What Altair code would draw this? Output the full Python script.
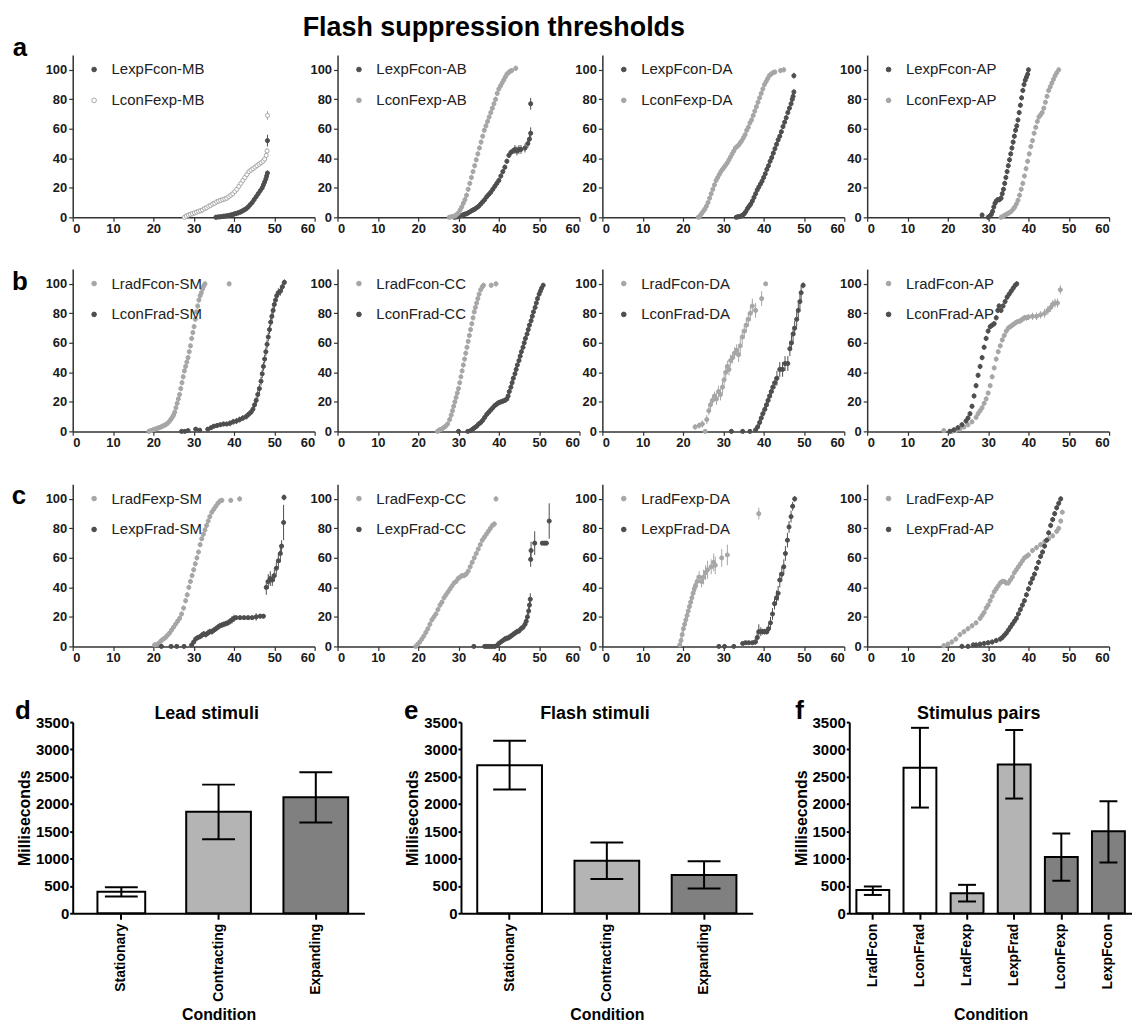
import altair as alt
import pandas as pd

FONT = "Liberation Sans"
DARK = "#4e4e4e"
LIGHT = "#a6a6a6"
DEFAULT_ERR = 1.8
PW, PH = 243, 163
MAIN_TITLE = "Flash suppression thresholds"

# ---------------- row a ----------------
A1_LEXPFCON_MB = [(35.5,0),(36,0.2),(36.5,0.3),(37,0.5),(37.5,0.7),(38,0.9),(38.5,1.1),(39,1.4),(39.5,1.8),(40,2.2),(40.5,2.6),(41,3),(41.5,3.5),(42,4.2),(42.5,5),(43,5.8),(43.5,7),(44,8.5),(44.5,10),(45,12),(45.5,14),(46,16),(46.5,18),(47,20),(47.3,22),(47.6,24),(47.9,26),(48.1,28),(48.3,30),(48.3,52,4)]
A1_LCONFEXP_MB = [(27.7,0),(28.2,0.8),(28.7,1.5),(29.2,2),(29.7,2.5),(30.2,3),(30.7,3.5),(31.2,4),(31.7,4.5),(32.2,5),(32.7,6),(33.2,6.5),(33.7,7.5),(34.2,8),(34.7,9),(35.2,9.5),(35.7,10.5),(36.2,11),(36.7,11.5),(37.2,12),(37.7,12.5),(38.2,13),(38.7,14),(39.2,15),(39.7,16),(40.2,17.5),(40.7,19),(41.2,21),(41.7,23),(42.2,25),(42.7,27),(43.2,29),(43.7,31),(44.2,32),(44.7,33),(45.2,34),(45.7,35),(46.2,36),(46.7,37),(47.2,38),(47.6,39.5),(48,42),(48.2,45),(48.3,69,3)]

A2_LEXPFCON_AB = [(29,0),(29.5,0.3),(30,0.5),(30.5,1),(31,1.5),(31.5,2),(32,2.5),(32.5,3.2),(33,4),(33.5,4.8),(34,5.5),(34.5,6.5),(35,7.5),(35.5,9),(36,10.5),(36.5,12),(37,14),(37.5,15.5),(38,17),(38.5,19),(39,21),(39.5,23),(40,25),(40.5,28),(41,31),(41.5,34),(42,38),(42.5,42),(43,44),(43.5,45,2),(44,46,3),(44.5,45,3),(45,46,3),(45.5,46,3),(46.5,47,3),(47.2,50,3),(47.6,53,3),(47.9,57,4),(47.9,77,4)]
A2_LCONFEXP_AB = [(27.7,0),(28.2,0.3),(28.7,0.6),(29.2,1),(29.6,2),(30,3),(30.4,5),(30.8,7),(31.2,9.5),(31.6,12),(32,15),(32.4,19),(32.8,23),(33.2,27),(33.6,31),(34,35),(34.4,39),(34.8,43),(35.2,47),(35.6,51),(36,55),(36.4,59),(36.8,62),(37.2,65),(37.6,68),(38,71),(38.4,74),(38.8,77),(39.2,80),(39.6,84),(40,87),(40.4,89),(40.8,91),(41.2,93),(41.6,95),(42,97),(42.4,98),(42.8,99),(43.2,99.5),(44.2,101)]

A3_LEXPFCON_DA = [(33.2,0),(33.6,0.3),(34,0.5),(34.4,0.8),(34.8,1.5),(35.2,2.5),(35.6,4),(36,6),(36.4,7.5),(36.8,9),(37.2,11),(37.6,13.5),(38,16),(38.4,18.5),(38.8,20.5),(39.2,22.5),(39.6,24.5),(40,27),(40.4,29.5),(40.8,32.5),(41.2,35),(41.6,38),(42,40.5),(42.4,43.5),(42.8,46.5),(43.2,49.5),(43.6,52.5),(44,55),(44.4,58),(44.8,61.5),(45.2,64.5),(45.6,67.5),(46,71),(46.4,74),(46.8,77),(47.1,80),(47.3,82),(47.5,85),(47.5,96,2)]
A3_LCONFEXP_DA = [(23.8,0),(24.2,1),(24.6,2.5),(25,4),(25.4,5.5),(25.8,7.5),(26.2,10),(26.6,13),(27,16),(27.4,19),(27.8,22),(28.2,25),(28.6,27),(29,29),(29.4,31),(29.8,32.5),(30.2,34),(30.6,35.5),(31,37),(31.4,39),(31.8,41),(32.2,43),(32.6,45),(33,47),(33.4,48),(33.8,49),(34.2,50.5),(34.6,52),(35,54),(35.4,56),(35.8,59),(36.2,61),(36.6,64),(37,66),(37.4,69),(37.8,72),(38.2,75),(38.6,78),(39,81),(39.4,84),(39.8,87),(40.2,90),(40.6,92),(41,94),(41.4,96),(41.8,97),(42.3,98),(42.8,98.5),(44.2,99.5),(45,100)]

A4_LEXPFCON_AP = [(28.5,1.5),(30,0),(30.4,0.8),(30.8,2),(31.1,4),(31.4,7),(31.7,9.5),(32,11),(32.4,12),(32.8,12),(33.2,13),(33.5,16),(33.8,19),(34.1,23),(34.4,27),(34.7,31),(35,35),(35.3,39),(35.6,43),(35.9,47),(36.2,51),(36.5,55),(36.8,59),(37.1,62),(37.4,66),(37.7,71),(38,76),(38.3,81),(38.6,86),(38.9,90),(39.2,93),(39.5,95),(39.8,97),(40,100)]
A4_LCONFEXP_AP = [(33.2,0),(33.7,0.7),(34.2,1.5),(34.7,2.3),(35.2,3),(35.7,4),(36.2,5.5),(36.6,7),(37,9),(37.4,11.5),(37.8,15),(38.2,19),(38.6,23),(39,28),(39.4,33),(39.8,38),(40.2,43),(40.6,48),(41,52),(41.4,57),(41.8,61),(42.2,65),(42.6,68),(43,69.5),(43.4,71),(43.8,74),(44.2,78),(44.6,82),(45,86),(45.4,88.5),(45.8,91),(46.2,93.5),(46.6,96),(47,98),(47.5,100)]

# ---------------- row b ----------------
B1_LRADFCON_SM = [(18.9,0),(19.4,0.5),(19.9,1),(20.4,1.5),(20.9,2),(21.4,2.5),(21.9,3),(22.4,3.7),(22.9,4.3),(23.4,5.2),(23.9,6.5),(24.3,8),(24.7,9.5),(25,11),(25.3,13),(25.6,16),(25.9,19),(26.2,22),(26.5,25),(26.8,29),(27.1,33),(27.4,37),(27.7,41),(28,44),(28.3,47),(28.6,50),(28.9,54),(29.2,58),(29.5,63),(29.8,67),(30.1,71),(30.4,76),(30.7,81),(31,85),(31.3,89),(31.6,92),(31.9,94),(32.2,96.5),(32.5,98.5),(32.8,100),(38.8,100)]
B1_LCONFRAD_SM = [(27,0,0),(27.8,0,0),(28.6,0.5,0.5),(30.5,1.5,1),(31.5,0.8,0.8),(33.5,1.5,1),(34.3,2.5,1.5),(35,3.5,1.5),(35.8,4,1.5),(36.6,4.5,1.5),(37.4,5,1.5),(38.2,5,1.5),(39,5.5,2),(39.8,6.5,2),(40.6,7,2),(41.4,8,2),(42.2,9,2),(43,10,2),(43.6,11.5,2),(44.2,13,2),(44.7,15,2.5),(45.1,18,2.5),(45.5,21,2.5),(45.9,25,3),(46.3,29,3),(46.7,34,3),(47,39,3),(47.3,44,3),(47.6,49,3),(47.9,54,3),(48.2,59,3),(48.5,64,3),(48.8,69,3),(49.1,74,3),(49.4,78,3),(49.7,82,3),(50,86,3),(50.3,89,3),(50.6,92,3),(51,94,3),(51.5,95,3),(52,98,3),(52.5,101,2)]

B2_LRADFCON_CC = [(24.8,0),(25.3,1),(25.8,1.5),(26.3,2.5),(26.8,3.5),(27.3,5),(27.8,8),(28.2,11),(28.5,14),(28.8,17),(29.1,20),(29.4,23),(29.7,26),(30,29),(30.3,33),(30.6,37),(30.9,41),(31.2,45),(31.5,49),(31.8,53),(32.1,57),(32.4,61),(32.7,65),(33,69),(33.3,73),(33.6,77),(33.9,81),(34.2,84),(34.5,87),(34.8,90),(35.1,93),(35.5,96),(35.9,98),(36.2,99),(38.1,99),(39.3,100)]
B2_LCONFRAD_CC = [(30,0,0),(32.3,0,0),(33,0.5),(33.5,1.5),(34,2.5),(34.5,3.5),(35,5),(35.5,6),(36,7.5),(36.5,9.5),(37,11.5),(37.5,13),(38,14.5),(38.5,16),(39,17.5),(39.5,18.5),(40,19.5),(40.5,20),(41,20.5),(41.5,21),(42,22),(42.3,24),(42.6,27),(43,30),(43.3,33),(43.6,36),(44,39),(44.3,42),(44.6,45),(45,48),(45.3,51),(45.6,54),(46,57),(46.3,60),(46.6,63),(47,66),(47.3,69),(47.6,72),(48,75),(48.3,78),(48.6,81),(49,84),(49.3,87),(49.6,90),(50,93),(50.3,95),(50.6,97),(51,99)]

B3_LRADFCON_DA = [(23,3,2),(24,4,2),(24.8,5,2.5),(25.5,0,0),(25.9,8,3),(26.4,14,3),(26.8,18,3),(27.3,21,3),(27.8,24,3),(28.3,22,4),(28.8,27,4),(29.3,25,4),(29.8,30,4),(30.2,35,4),(30.6,40,4),(31,44,4),(31.4,42,4),(31.8,48,4),(32.3,50,4),(32.8,53,4),(33.3,55,4),(33.8,52,5),(34.2,58,5),(34.7,64,5),(35.2,68,5),(35.7,72,5),(36.2,76,5),(36.7,80,5),(37.2,85,5),(38,82,5),(39.5,90,5),(40.5,100,1)]
B3_LCONFRAD_DA = [(32,0,0),(34.8,0,0),(36.6,0,0),(38,1,1),(38.5,3,2),(39,6,3),(39.4,9,3),(39.8,12,3),(40.3,15,3),(40.7,18,4),(41.1,21,4),(41.5,24,4),(41.9,27,4),(42.3,30,4),(42.8,33,4),(43.3,36,5),(44,42,5),(44.7,42,5),(45.3,46,5),(46,46,5),(46.5,56,5),(46.9,60,5),(47.3,66,5),(47.7,70,5),(48.2,76,5),(48.6,82,5),(49,88,5),(49.3,94,5),(49.8,99,2)]

B4_LRADFCON_AP = [(19,0.5),(21,0),(22,0.5),(23,1.5),(24,3),(25,4.5),(26,6.5),(27,9.5),(27.5,12),(28,14),(28.5,16),(29,19),(29.5,22),(30,26),(30.5,31),(31,37),(31.5,43),(32,49),(32.5,54),(33,58),(33.5,62),(34,65),(34.5,68),(35,70),(35.5,71),(36,72),(36.5,73),(37,74),(37.5,74.5),(38,75,2),(38.5,76,2),(39,77,2),(39.5,77,2),(40,77.5,2),(41,78,2.5),(42,78,2.5),(43,79,2.5),(44,80,3),(44.8,82,3),(45.5,84,3),(46,86,3),(46.6,87,3),(47.2,87,3),(47.9,96,3)]
B4_LCONFRAD_AP = [(20.5,0),(21.5,1),(22.5,2.5),(23.5,4.5),(24.5,7),(25,9),(25.5,12),(26,17),(26.5,24),(27,31),(27.5,38),(28,44),(28.5,50),(29,57),(29.5,63),(30,68),(30.5,71),(31,72),(31.5,73),(32,77),(32.4,82),(32.7,85),(33.2,82),(33.7,85),(34.2,88),(34.7,91),(35.2,93),(35.7,95),(36.2,97),(36.7,99),(37.1,100)]

# ---------------- row c ----------------
C1_LRADFEXP_SM = [(20.3,1),(21,1.5),(21.5,2.5),(22,4),(22.5,5),(23,6),(23.5,7.5),(24,9),(24.5,11),(25,13),(25.5,15),(26,17),(26.5,19),(27,22),(27.5,26),(28,31),(28.4,35),(28.8,40),(29.2,44),(29.6,48),(30,52),(30.4,56),(30.8,60),(31.2,64),(31.6,69),(32,73),(32.4,76),(32.8,79),(33.2,82),(33.6,85),(34,88),(34.5,91),(35,93),(35.5,95),(36,97),(36.5,98.5),(37,99),(39.2,99),(41.4,100)]
C1_LEXPFRAD_SM = [(22,0,0),(24.4,0,0),(25.8,0,0),(27.6,0,0),(29.5,1,1),(30,3,1.5),(30.5,5,1.5),(31,6,1.5),(31.5,6.5,1.5),(32,7.5,2),(32.5,8.5,2),(33,8,2),(33.5,9,2),(34,10,2),(34.5,10,2),(35,11,2),(35.5,12,2),(36,13,2),(36.5,14,2),(37,14.5,2),(37.5,15,2),(38,15.5,2),(38.5,16,2),(39,17,2),(39.5,18,2.5),(40,19,2.5),(40.5,19.5,1),(41.5,19.5,1),(42.5,19.5,1),(43.5,19.5,1),(44.5,19.5,1),(45.5,20,2.5),(46.5,20.5,1.5),(47.3,20.5,1.5),(48,40,5),(48.5,44,5),(49,46,5),(49.5,45,4),(50,48,4),(50.5,53,4),(51,58,5),(51.5,63,6),(51.8,68,4),(52.3,84,12),(52.4,101,2)]

C2_LRADFEXP_CC = [(19.4,0),(19.9,1.5),(20.4,3),(20.9,5),(21.4,7),(21.9,9.5),(22.4,12),(22.9,15),(23.4,18),(23.9,20),(24.4,22),(24.9,25),(25.4,28),(25.9,30),(26.4,33),(26.9,35),(27.4,37),(27.9,39),(28.4,41),(28.9,43),(29.4,44),(29.9,46),(30.4,47),(30.9,48),(31.4,48),(31.9,49),(32.4,51),(32.9,54),(33.4,57),(33.9,60),(34.4,63),(34.9,66),(35.4,69),(35.9,72),(36.4,74),(36.9,76),(37.4,78),(37.9,80),(38.4,82),(38.9,83),(39.3,100)]
C2_LEXPFRAD_CC = [(33.8,0,0),(36.5,0,0),(37,0,0),(37.5,0,0),(38,0,0),(38.5,0,0),(39,0,0),(39.5,0.5,0.5),(40,2,1.5),(40.5,3,1.5),(41,4,1.5),(41.5,5,2),(42,5.5,2),(42.5,6,2),(43,7,2),(43.5,8,2),(44,9,2),(44.5,10,2),(45,10.5,2),(45.5,12,2),(46,13,2),(46.5,15,2),(46.8,17,3),(47.1,20,3),(47.4,24,3),(47.6,28,3),(47.8,32,4),(47.9,59,5),(48,65,6),(48.9,70,8),(50.8,70,1),(51.3,70,1),(51.8,70,1),(52.5,85,12)]

C3_LRADFEXP_DA = [(19.2,1,2),(19.5,4,3),(19.8,8,3),(20.1,12,3),(20.4,15,3),(20.7,18,3),(21,21,3),(21.3,24,3),(21.6,27,3),(21.9,30,3),(22.2,33,4),(22.5,36,4),(22.8,39,4),(23.1,41,4),(23.5,44,4),(24,47,4),(24.6,44,4),(25.1,47,5),(25.6,50,5),(26.1,52,6),(27,54,5),(27.6,57,6),(28,55,6),(29.6,60,6),(31,62,7),(38.8,90,4)]
C3_LEXPFRAD_DA = [(28.9,0,0),(30.3,0,0),(32.6,0,0),(34.8,2,1),(35.5,2.5,1),(36.3,2.5,1),(37.2,2.5,1),(37.9,3,2),(38.4,6,4),(38.8,10,5),(39.3,10,3),(39.8,10,2),(40.3,10,2),(40.8,10,2),(41.2,12,3),(41.7,16,4),(42.2,22,4),(42.7,29,4),(43.2,33,5),(43.6,36,5),(44,45,5),(44.5,49,5),(45,54,5),(45.4,63,5),(45.9,72,5),(46.3,81,4),(46.8,88,4),(47.2,95,3),(47.7,100,2)]

C4_LRADFEXP_AP = [(19,0.5),(20,1.5),(21,3),(22,5),(23,8),(24,10),(25,12),(26,14),(27,16),(28,19),(28.5,21),(29,23),(29.5,26),(30,28),(30.5,31),(31,34),(31.5,37),(32,39),(32.5,41),(33,43),(33.5,44),(34,44),(34.5,43),(35,43),(35.5,45),(36,47),(36.5,50),(37,52),(37.5,54),(38,56),(38.5,58),(39,60),(39.5,61),(40,62),(41,65),(42,67),(43,69),(44,71),(45,73),(46,75),(47,78),(47.5,80),(48,85),(48.4,91)]
C4_LEXPFRAD_AP = [(23.5,0),(25,0),(26.3,1),(27,1),(28,1.5),(29,2),(30,2.5),(31,3),(32,4),(33,5),(33.5,6),(34,7.5),(34.5,9),(35,11),(35.5,13),(36,15),(36.5,17),(37,19),(37.5,22),(38,25),(38.5,28),(39,31),(39.5,35),(40,39),(40.5,43),(41,46),(41.5,49),(42,53),(42.5,57),(43,61),(43.5,64),(44,68),(44.5,72),(45,77),(45.5,82),(46,86),(46.5,90),(47,94),(47.5,97),(48,100)]

# ---------------- bar charts ----------------
MOTION_CATS = ["Stationary", "Contracting", "Expanding"]
LEAD_MEAN = [395, 1858, 2125]
LEAD_LOW = [305, 1355, 1660]
LEAD_HIGH = [475, 2355, 2580]
FLASH_MEAN = [2710, 960, 700]
FLASH_LOW = [2265, 625, 455]
FLASH_HIGH = [3160, 1295, 950]
PAIR_CATS = ["LradFcon", "LconFrad", "LradFexp", "LexpFrad", "LconFexp", "LexpFcon"]
PAIR_GROUP = ["rad-con", "rad-con", "rad-exp", "rad-exp", "con-exp", "con-exp"]
PAIR_MEAN = [425, 2665, 365, 2725, 1030, 1500]
PAIR_LOW = [335, 1935, 215, 2100, 595, 930]
PAIR_HIGH = [490, 3395, 520, 3355, 1460, 2050]

SHADES = ["#ffffff", "#b4b4b4", "#808080"]

ROWS = [
    ("a", (-53, -7), [
        [("LexpFcon-MB", A1_LEXPFCON_MB, "dark"), ("LconFexp-MB", A1_LCONFEXP_MB, "open")],
        [("LexpFcon-AB", A2_LEXPFCON_AB, "dark"), ("LconFexp-AB", A2_LCONFEXP_AB, "light")],
        [("LexpFcon-DA", A3_LEXPFCON_DA, "dark"), ("LconFexp-DA", A3_LCONFEXP_DA, "light")],
        [("LexpFcon-AP", A4_LEXPFCON_AP, "dark"), ("LconFexp-AP", A4_LCONFEXP_AP, "light")],
    ]),
    ("b", (-53, 13), [
        [("LradFcon-SM", B1_LRADFCON_SM, "light"), ("LconFrad-SM", B1_LCONFRAD_SM, "dark")],
        [("LradFcon-CC", B2_LRADFCON_CC, "light"), ("LconFrad-CC", B2_LCONFRAD_CC, "dark")],
        [("LradFcon-DA", B3_LRADFCON_DA, "light"), ("LconFrad-DA", B3_LCONFRAD_DA, "dark")],
        [("LradFcon-AP", B4_LRADFCON_AP, "light"), ("LconFrad-AP", B4_LCONFRAD_AP, "dark")],
    ]),
    ("c", (-54, 12), [
        [("LradFexp-SM", C1_LRADFEXP_SM, "light"), ("LexpFrad-SM", C1_LEXPFRAD_SM, "dark")],
        [("LradFexp-CC", C2_LRADFEXP_CC, "light"), ("LexpFrad-CC", C2_LEXPFRAD_CC, "dark")],
        [("LradFexp-DA", C3_LRADFEXP_DA, "light"), ("LexpFrad-DA", C3_LEXPFRAD_DA, "dark")],
        [("LradFexp-AP", C4_LRADFEXP_AP, "light"), ("LexpFrad-AP", C4_LEXPFRAD_AP, "dark")],
    ]),
]


def text_layer(txt, x, y, size, baseline="middle"):
    return alt.Chart(pd.DataFrame({"t": [txt]})).mark_text(
        font=FONT, fontSize=size, fontWeight="bold", color="black",
        align="center", baseline=baseline,
    ).encode(text="t:N", x=alt.value(x), y=alt.value(y))


def scatter_panel(entries, letter=None, letter_xy=(0, 0), heading=None):
    recs, names, fills, strokes = [], [], [], []
    for name, pts, style in entries:
        names.append(name)
        col = DARK if style == "dark" else LIGHT
        strokes.append(col)
        fills.append("#ffffff" if style == "open" else col)
        for p in pts:
            e = p[2] if len(p) > 2 else DEFAULT_ERR
            recs.append({"series": name, "x": p[0], "y": p[1], "lo": p[1] - e, "hi": p[1] + e})
    df = pd.DataFrame(recs)
    xs = alt.Scale(domain=[0, 60], nice=False)
    ys = alt.Scale(domain=[0, 110], nice=False)
    common = dict(grid=False, title=None, labelFont=FONT, labelFontSize=13, labelFontWeight="bold",
                  labelColor="#1a1a1a", domainColor="#333333", domainWidth=1.5,
                  tickColor="#333333", tickWidth=1.2, tickSize=4, labelOverlap=False)
    xaxis = alt.Axis(values=[0, 10, 20, 30, 40, 50, 60], labelPadding=1, **common)
    yaxis = alt.Axis(values=[0, 20, 40, 60, 80, 100], labelPadding=2, **common)
    leg = alt.Legend(title=None, orient="none", legendX=14, legendY=7, padding=0,
                     labelFont=FONT, labelFontSize=15, labelColor="#222222", labelLimit=300,
                     symbolType="circle", symbolSize=22, symbolStrokeWidth=1,
                     labelOffset=10, rowPadding=15)
    fill_scale = alt.Scale(domain=names, range=fills)
    stroke_scale = alt.Scale(domain=names, range=strokes)
    base = alt.Chart(df)
    rules = base.mark_rule(strokeWidth=1, clip=True).encode(
        x=alt.X("x:Q", scale=xs, axis=xaxis),
        y=alt.Y("lo:Q", scale=ys, axis=yaxis),
        y2="hi:Q",
        stroke=alt.Stroke("series:N", scale=stroke_scale, legend=leg),
    )
    points = base.mark_point(filled=True, shape="circle", size=17, strokeWidth=1, opacity=1).encode(
        x=alt.X("x:Q", scale=xs, axis=xaxis),
        y=alt.Y("y:Q", scale=ys, axis=yaxis),
        fill=alt.Fill("series:N", scale=fill_scale, legend=leg),
        stroke=alt.Stroke("series:N", scale=stroke_scale, legend=leg),
    )
    layers = [rules, points]
    if letter:
        layers.append(text_layer(letter, letter_xy[0], letter_xy[1], 26))
    if heading:
        layers.append(text_layer(heading, 157, -19, 27, baseline="alphabetic"))
    return alt.layer(*layers).properties(width=PW, height=PH)


def bar_panel(cats, means, lows, highs, groups, group_domain, heading, letter, width,
              bar_size, cap_size, narrow=None):
    df = pd.DataFrame({"cond": cats, "ms": means, "lo": lows, "hi": highs, "grp": groups})
    xaxis = alt.Axis(title="Condition", labelAngle=270, labelFont=FONT, labelFontSize=14,
                     labelFontWeight="bold", labelColor="black", labelPadding=4,
                     domainColor="black", domainWidth=2, tickColor="black", tickWidth=2,
                     tickSize=6, titleFont=FONT, titleFontSize=16, titleFontWeight="bold",
                     titleColor="black", titleY=94, titleBaseline="top")
    yaxis = alt.Axis(title="Milliseconds", values=[0, 500, 1000, 1500, 2000, 2500, 3000, 3500],
                     grid=False, format="d", labelOverlap=False,
                     labelFont=FONT, labelFontSize=15, labelFontWeight="bold",
                     labelColor="black", labelPadding=1, domainColor="black", domainWidth=2,
                     tickColor="black", tickWidth=2, tickSize=3, titleFont=FONT,
                     titleFontSize=16, titleFontWeight="bold", titleColor="black",
                     titlePadding=3)
    X = alt.X("cond:N", sort=cats, scale=alt.Scale(paddingInner=0, paddingOuter=0), axis=xaxis)
    ys = alt.Scale(domain=[0, 3500], nice=False)
    if narrow is None:
        size = alt.value(bar_size)
    else:
        size = alt.condition(f"datum.cond == '{narrow[0]}'", alt.value(narrow[1]), alt.value(bar_size))
    base = alt.Chart(df)
    bars = base.mark_bar(stroke="black", strokeWidth=2).encode(
        x=X,
        y=alt.Y("ms:Q", scale=ys, axis=yaxis),
        fill=alt.Fill("grp:N", scale=alt.Scale(domain=group_domain, range=SHADES), legend=None),
        size=size,
    )
    err = base.mark_rule(color="black", strokeWidth=2).encode(
        x=X, y=alt.Y("lo:Q", scale=ys, axis=yaxis), y2="hi:Q")
    cap_lo = base.mark_tick(color="black", thickness=2, size=cap_size, opacity=1).encode(
        x=X, y=alt.Y("lo:Q", scale=ys, axis=yaxis))
    cap_hi = base.mark_tick(color="black", thickness=2, size=cap_size, opacity=1).encode(
        x=X, y=alt.Y("hi:Q", scale=ys, axis=yaxis))
    ttl = text_layer(heading, width / 2 - 12, -3, 18, baseline="alphabetic")
    let = text_layer(letter, -50, -11, 26)
    return alt.layer(bars, err, cap_lo, cap_hi, ttl, let).properties(width=width, height=192)


RES = dict(color="independent", fill="independent", stroke="independent")

row_charts = []
for letter, lxy, panels in ROWS:
    charts = []
    for i, entries in enumerate(panels):
        charts.append(scatter_panel(
            entries,
            letter=letter if i == 0 else None,
            letter_xy=lxy,
            heading=MAIN_TITLE if (letter == "a" and i == 1) else None,
        ))
    row_charts.append(alt.hconcat(*charts, spacing=23, bounds="flush").resolve_scale(**RES))

bar_d = bar_panel(MOTION_CATS, LEAD_MEAN, LEAD_LOW, LEAD_HIGH, MOTION_CATS, MOTION_CATS,
                  "Lead stimuli", "d", 293, 65, 33, narrow=("Stationary", 48))
bar_e = bar_panel(MOTION_CATS, FLASH_MEAN, FLASH_LOW, FLASH_HIGH, MOTION_CATS, MOTION_CATS,
                  "Flash stimuli", "e", 293, 65, 33)
bar_f = bar_panel(PAIR_CATS, PAIR_MEAN, PAIR_LOW, PAIR_HIGH, PAIR_GROUP,
                  ["rad-con", "rad-exp", "con-exp"], "Stimulus pairs", "f", 284, 33, 18)
bar_row = alt.hconcat(bar_d, bar_e, bar_f, spacing=97, bounds="flush").resolve_scale(**RES)

chart = alt.vconcat(*row_charts, bar_row, spacing=34).resolve_scale(
    **RES
).properties(
    padding={"left": 3, "top": 4, "right": 0, "bottom": 2},
    background="white",
).configure_view(stroke=None)

chart.save("out.html", embed_options={"renderer": "svg", "actions": False})
